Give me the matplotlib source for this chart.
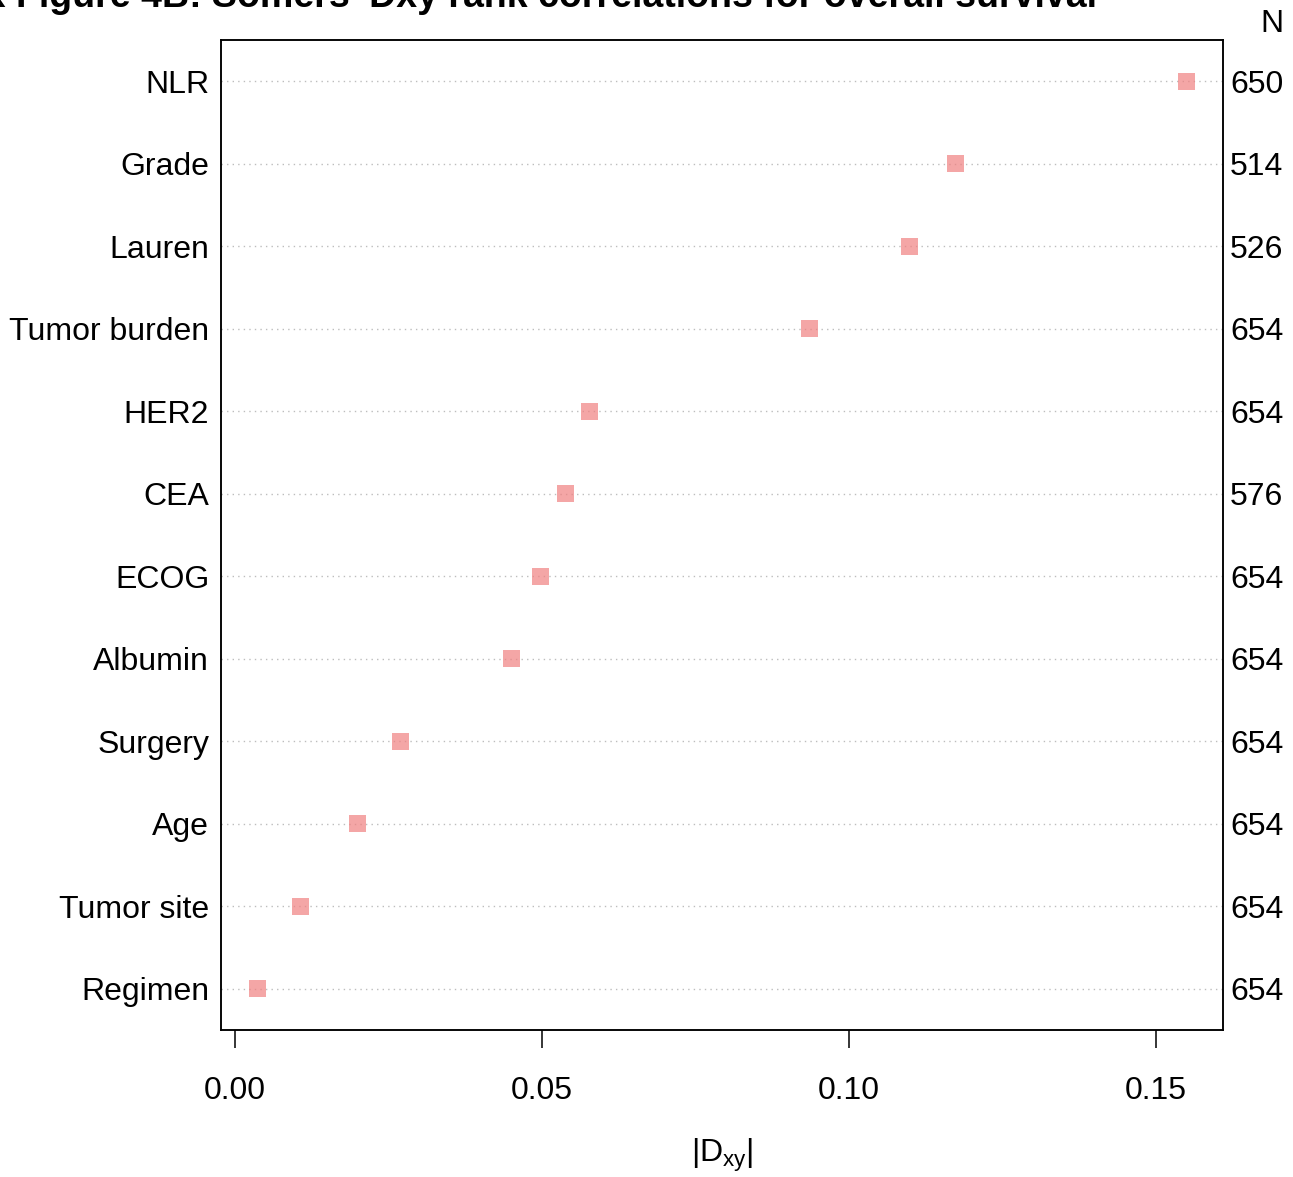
import matplotlib
matplotlib.use("Agg")
import matplotlib.pyplot as plt

plt.rcParams['font.family'] = ['Liberation Sans', 'DejaVu Sans']
plt.rcParams['mathtext.fontset'] = 'custom'
plt.rcParams['mathtext.rm'] = 'Liberation Sans'
plt.rcParams['mathtext.it'] = 'Liberation Sans:italic'

# Data, top to bottom as in the figure
variables = ["NLR", "Grade", "Lauren", "Tumor burden", "HER2", "CEA",
             "ECOG", "Albumin", "Surgery", "Age", "Tumor site", "Regimen"]
dxy = [0.1549, 0.1174, 0.1098, 0.0936, 0.0577, 0.0539,
       0.0498, 0.0450, 0.0269, 0.0199, 0.0106, 0.0037]
n_obs = [650, 514, 526, 654, 654, 576, 654, 654, 654, 654, 654, 654]
x_ticks = [0.00, 0.05, 0.10, 0.15]

W, H = 1293, 1177
fig = plt.figure(figsize=(W / 100, H / 100), dpi=100)
ax = fig.add_axes([221 / W, 1 - 1030 / H, (1223 - 221) / W, (1030 - 40) / H])

ypos = list(range(len(variables), 0, -1))

# dotted guide lines
for y in ypos:
    ax.axhline(y, color='#BDBDBD', linestyle=(0, (1, 3)), linewidth=1.0, zorder=1)

ax.scatter(dxy, ypos, marker='s', s=150, color='#F08080', alpha=0.7,
           edgecolors='none', zorder=3)

ax.set_xlim(-0.00228, 0.1609)
ax.set_ylim(0.5, 12.5)

ax.set_xticks(x_ticks)
ax.set_xticklabels([f"{v:.2f}" for v in x_ticks])
ax.tick_params(axis='x', direction='out', length=13, width=1.1, pad=20,
               labelsize=23)
ax.set_yticks(ypos)
ax.set_yticklabels(variables)
ax.tick_params(axis='y', length=0, pad=8.5, labelsize=23)

# N column on the right
ax2 = ax.twinx()
ax2.set_ylim(ax.get_ylim())
ax2.set_yticks(ypos)
ax2.set_yticklabels([str(n) for n in n_obs])
ax2.tick_params(axis='y', length=0, pad=5, labelsize=23)

for a in (ax, ax2):
    for sp in a.spines.values():
        sp.set_linewidth(1.1)

fig.text(1272 / W, 1 - 24 / H, "N", ha='center', va='center', fontsize=23)
fig.text(722 / W, 1 - 1155 / H, r'$|\mathrm{D}_{\mathrm{xy}}|$', ha='center',
         va='center', fontsize=23)
fig.text(1097 / W, 1 - 7 / H,
         "Appendix Figure 4B: Somers' Dxy rank correlations for overall survival",
         ha='right', va='baseline', fontsize=27, fontweight='bold')

fig.savefig("out.png", dpi=100)
